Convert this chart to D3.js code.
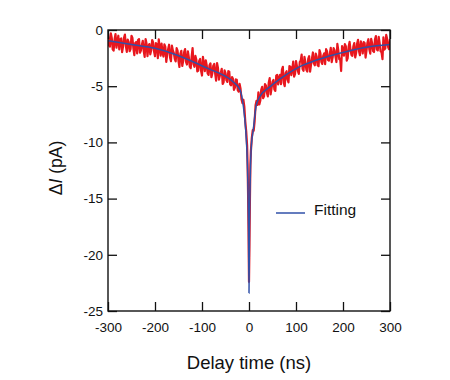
<!DOCTYPE html>
<html>
<head>
<meta charset="utf-8">
<script src="https://cdn.jsdelivr.net/npm/d3@7"></script>
<style>
  html, body { margin: 0; padding: 0; background: #fff; }
  svg { display: block; font-family: "Liberation Sans", Arial, sans-serif; }
</style>
</head>
<body>
<svg id="chart" width="450" height="380"></svg>
<script>
// ---- data ----
const xTicks = [-300, -200, -100, 0, 100, 200, 300];
const yTicks = [0, -5, -10, -15, -20, -25];

// measured current (red), left branch at -300, -296, ..., -4 ns
const redLeftA = [
  -0.35, -1.48, -0.70, -1.83, -0.36, -0.99, -1.72, -0.75, -1.48, -0.41,
  -1.94, -1.07, -1.70, -0.71, -2.24, -1.07, -0.89, -2.02, -1.34, -1.87,
  -0.80, -2.32, -1.25, -1.78, -1.10, -2.33, -1.28, -0.83, -2.28, -2.03,
  -1.28, -2.83, -1.68, -2.44, -1.39, -2.04, -2.80, -1.83, -3.29, -1.86,
  -2.73, -1.70, -3.07, -2.43, -3.40, -1.60, -3.27, -2.64, -3.61, -2.58,
  -4.05, -3.02, -2.69, -3.86, -3.13, -4.20, -3.18, -3.86, -2.94, -4.42,
  -3.80, -4.79, -3.58, -4.47, -3.66, -4.85, -4.19, -5.33, -4.40, -5.35,
  -4.80, -6.15, -6.20, -8.10, -10.30
];
// left branch at -298, -294, ..., -6 ns
const redLeftB = [
  -1.37, -0.29, -1.72, -0.85, -1.58, -0.51, -0.84, -1.97, -0.70, -1.43,
  -0.86, -1.89, -0.51, -1.63, -1.16, -2.08, -0.81, -1.83, -0.96, -2.39,
  -1.21, -1.44, -2.17, -0.89, -1.92, -1.16, -2.51, -1.56, -1.21, -2.36,
  -1.51, -2.16, -1.31, -2.77, -1.82, -2.57, -1.62, -2.76, -2.13, -3.20,
  -1.97, -2.84, -1.90, -3.27, -2.35, -3.04, -2.31, -3.68, -2.75, -3.62,
  -2.39, -3.66, -3.13, -4.00, -2.97, -3.84, -3.02, -4.50, -3.38, -4.06,
  -3.45, -4.64, -3.83, -4.62, -3.71, -4.92, -4.36, -5.12, -4.43, -5.48,
  -5.23, -6.50, -6.80, -9.00
];
// around the peak at -3, -2, ..., 3 ns
const redPeak = [-12.0, -14.5, -18.0, -22.4, -19.0, -15.0, -12.0];
// right branch at 4, 8, ..., 300 ns
const redRightA = [
  -10.80, -8.90, -8.10, -6.30, -5.55, -6.30, -5.05, -5.90, -4.95, -5.90,
  -4.28, -5.18, -4.45, -5.42, -4.00, -4.26, -4.82, -3.28, -5.00, -3.67,
  -4.66, -3.26, -3.56, -4.16, -2.76, -3.66, -2.86, -2.19, -3.63, -2.86,
  -3.70, -2.33, -3.07, -2.00, -3.14, -2.37, -3.22, -2.07, -3.02, -2.07,
  -1.71, -2.66, -2.11, -2.86, -1.61, -2.37, -1.23, -2.59, -3.65, -1.71,
  -1.26, -2.72, -1.48, -1.74, -2.30, -1.16, -2.02, -0.88, -2.24, -1.41,
  -1.08, -2.45, -1.13, -1.71, -0.79, -1.87, -0.85, -1.73, -0.61, -1.89,
  -2.60, -1.75, -0.44, -1.52, -0.80
];
// right branch at 6, 10, ..., 298 ns
const redRightB = [
  -9.60, -8.95, -6.70, -6.67, -6.62, -5.32, -6.07, -4.82, -5.57, -4.69,
  -5.73, -4.61, -5.28, -4.06, -4.83, -3.99, -3.55, -4.72, -3.82, -4.41,
  -3.21, -4.01, -2.81, -3.91, -3.21, -3.91, -2.72, -3.46, -2.39, -3.53,
  -2.56, -3.70, -2.53, -2.97, -2.10, -3.14, -1.79, -2.84, -2.29, -3.04,
  -1.88, -2.73, -1.58, -2.43, -1.79, -2.85, -1.81, -2.57, -1.43, -2.28,
  -1.44, -2.50, -1.06, -2.22, -1.48, -2.44, -1.20, -1.86, -1.02, -2.09,
  -1.16, -1.84, -0.82, -2.10, -1.18, -1.96, -0.54, -1.82, -1.20, -1.98,
  -0.66, -1.64, -0.83, -1.71
];

// fitting curve (blue)
const fitTimes  = [-300, -250, -200, -154, -119, -104, -83, -62, -34, -19, -12, -7, -5, -3, -2, -1, 0,
                   1, 2, 3, 5, 9, 15, 23, 45, 73, 108, 144, 179, 215, 250, 300];
const fitValues = [-0.95, -1.30, -1.63, -2.22, -2.82, -3.11, -3.50, -3.86, -4.60, -5.34, -6.80, -8.90, -10.3, -12.5, -14.5, -17.5, -23.4,
                   -17.5, -14.5, -12.5, -10.3, -8.90, -6.80, -5.93, -5.04, -4.15, -3.26, -2.67, -2.22, -1.84, -1.54, -1.30];

const legendLabel = "Fitting";
const xTitle = "Delay time (ns)";

// ---- build series ----
const redData = [];
redLeftA.forEach((v, i) => redData.push([-300 + 4 * i, v]));
redLeftB.forEach((v, i) => redData.push([-298 + 4 * i, v]));
redPeak.forEach((v, i) => redData.push([-3 + i, v]));
redRightA.forEach((v, i) => redData.push([4 + 4 * i, v]));
redRightB.forEach((v, i) => redData.push([6 + 4 * i, v]));
redData.sort((a, b) => a[0] - b[0]);
const fitData = fitTimes.map((t, i) => [t, fitValues[i]]);

// ---- layout ----
const L = 108, R = 390, T = 30, B = 311;
const svg = d3.select("#chart");
const x = d3.scaleLinear().domain([-300, 300]).range([L, R]);
const y = d3.scaleLinear().domain([-25, 0]).range([B, T]);
const fmt = d => String(d);

const clipId = "plotclip";
svg.append("defs").append("clipPath").attr("id", clipId)
  .append("rect").attr("x", L).attr("y", T - 2).attr("width", R - L).attr("height", B - T + 4);

const plot = svg.append("g").attr("clip-path", `url(#${clipId})`);

plot.append("path")
  .datum(redData)
  .attr("fill", "none")
  .attr("stroke", "#e8171e")
  .attr("stroke-width", 2.2)
  .attr("stroke-linejoin", "round")
  .attr("d", d3.line().x(d => x(d[0])).y(d => y(d[1])));

plot.append("path")
  .datum(fitData)
  .attr("fill", "none")
  .attr("stroke", "#3050a8")
  .attr("stroke-width", 1.5)
  .attr("d", d3.line().x(d => x(d[0])).y(d => y(d[1])).curve(d3.curveMonotoneX));

// ---- axes ----
const tickLen = 9;
function styleAxis(g) {
  g.select(".domain").remove();
  g.selectAll(".tick line").attr("stroke", "#111").attr("stroke-width", 1.3);
  g.selectAll(".tick text").attr("fill", "#111").style("font-size", "13.5px")
    .style("font-family", '"Liberation Sans", Arial, sans-serif');
}

svg.append("g").attr("transform", `translate(0,${B})`)
  .call(d3.axisBottom(x).tickValues(xTicks).tickSizeInner(-tickLen).tickSizeOuter(0).tickPadding(11)
        .tickFormat(fmt))
  .call(styleAxis);

svg.append("g").attr("transform", `translate(0,${T})`)
  .call(d3.axisTop(x).tickValues(xTicks).tickSizeInner(-tickLen).tickSizeOuter(0).tickFormat(""))
  .call(styleAxis);

svg.append("g").attr("transform", `translate(${L},0)`)
  .call(d3.axisLeft(y).tickValues(yTicks).tickSizeInner(-tickLen).tickSizeOuter(0).tickPadding(5)
        .tickFormat(fmt))
  .call(styleAxis);

svg.append("g").attr("transform", `translate(${R},0)`)
  .call(d3.axisRight(y).tickValues(yTicks).tickSizeInner(-tickLen).tickSizeOuter(0).tickFormat(""))
  .call(styleAxis);

// frame
svg.append("rect")
  .attr("x", L).attr("y", T).attr("width", R - L).attr("height", B - T)
  .attr("fill", "none").attr("stroke", "#111").attr("stroke-width", 1.4);

// ---- titles ----
svg.append("text")
  .attr("x", (L + R) / 2).attr("y", 369)
  .attr("text-anchor", "middle")
  .style("font-size", "18.5px").attr("fill", "#111")
  .text(xTitle);

const yt = svg.append("text")
  .attr("transform", `translate(62,168) rotate(-90)`)
  .attr("text-anchor", "middle")
  .style("font-size", "17.5px").attr("fill", "#111");
yt.append("tspan").text("Δ");
yt.append("tspan").style("font-style", "italic").text("I");
yt.append("tspan").text(" (pA)");

// ---- legend ----
svg.append("line")
  .attr("x1", 276).attr("x2", 305).attr("y1", 213).attr("y2", 213)
  .attr("stroke", "#3050a8").attr("stroke-width", 1.5);
svg.append("text")
  .attr("x", 314).attr("y", 214.5)
  .style("font-size", "15.5px").attr("fill", "#111")
  .text(legendLabel);
</script>
</body>
</html>
